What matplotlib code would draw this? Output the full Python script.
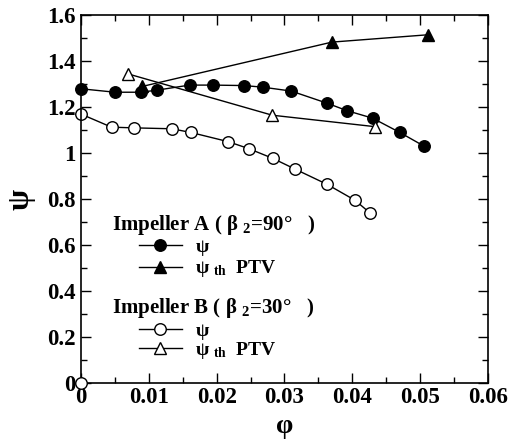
import matplotlib
matplotlib.use("Agg")
import matplotlib.pyplot as plt
from matplotlib.lines import Line2D
from matplotlib.ticker import MultipleLocator

plt.rcParams['font.family'] = ['Liberation Serif', 'DejaVu Serif']
plt.rcParams['font.weight'] = 'bold'
plt.rcParams['mathtext.fontset'] = 'custom'
plt.rcParams['mathtext.rm'] = 'Liberation Serif:bold'
plt.rcParams['mathtext.it'] = 'Liberation Serif:bold'
plt.rcParams['mathtext.bf'] = 'Liberation Serif:bold'

# Impeller A, psi (measured)
phi_a = [0.0, 0.005, 0.0088, 0.0112, 0.016, 0.0194, 0.024, 0.0268, 0.031,
         0.0363, 0.0392, 0.043, 0.047, 0.0506]
psi_a = [1.28, 1.265, 1.265, 1.274, 1.296, 1.296, 1.294, 1.287, 1.27,
         1.217, 1.185, 1.152, 1.09, 1.03]
# Impeller A, psi_th PTV
phi_a_th = [0.009, 0.037, 0.0512]
psi_a_th = [1.29, 1.483, 1.515]
# Impeller B, psi (measured)
phi_b = [0.0, 0.0045, 0.0078, 0.0134, 0.0162, 0.0217, 0.0247, 0.0283, 0.0316,
         0.0363, 0.0404, 0.0426]
psi_b = [1.17, 1.113, 1.11, 1.106, 1.09, 1.05, 1.02, 0.977, 0.93,
         0.864, 0.795, 0.74]
# Impeller B, psi_th PTV
phi_b_th = [0.0069, 0.0282, 0.0434]
psi_b_th = [1.345, 1.165, 1.115]
# stray open circle at origin
phi_b0 = [0.0]
psi_b0 = [0.0]

x_ticks = [0, 0.01, 0.02, 0.03, 0.04, 0.05, 0.06]
x_labels = ['0', '0.01', '0.02', '0.03', '0.04', '0.05', '0.06']
y_ticks = [0, 0.2, 0.4, 0.6, 0.8, 1.0, 1.2, 1.4, 1.6]
y_labels = ['0', '0.2', '0.4', '0.6', '0.8', '1', '1.2', '1.4', '1.6']

fig = plt.figure(figsize=(5.11, 4.47), dpi=100)
ax = fig.add_axes([0.1585, 0.143, 0.7965, 0.823])

ms = 8.3
ax.plot(phi_a, psi_a, '-o', color='black', mfc='black', ms=ms, lw=1, clip_on=False)
ax.plot(phi_a_th, psi_a_th, '-^', color='black', mfc='black', ms=ms, lw=1, clip_on=False)
ax.plot(phi_b, psi_b, '-o', color='black', mfc='white', ms=ms, lw=1, clip_on=False)
ax.plot(phi_b_th, psi_b_th, '-^', color='black', mfc='white', ms=ms, lw=1, clip_on=False)
ax.plot(phi_b0, psi_b0, 'o', color='black', mfc='white', ms=ms, clip_on=False, zorder=5)

ax.set_xlim(0, 0.06)
ax.set_ylim(0, 1.6)
ax.set_xticks(x_ticks)
ax.set_xticklabels(x_labels)
ax.set_yticks(y_ticks)
ax.set_yticklabels(y_labels)
ax.xaxis.set_minor_locator(MultipleLocator(0.005))
ax.yaxis.set_minor_locator(MultipleLocator(0.1))
ax.tick_params(which='both', direction='in', top=True, right=True, labelsize=16.5, width=1)
ax.tick_params(which='major', length=7)
ax.tick_params(which='minor', length=4)
ax.tick_params(axis='x', pad=3)
ax.tick_params(axis='y', pad=4)
for s in ax.spines.values():
    s.set_linewidth(1.2)

ax.set_xlabel('φ', fontsize=20, fontweight='bold', labelpad=4)
ax.set_ylabel('ψ', fontsize=22, fontweight='bold', labelpad=8)

ax.text(0.076, 0.429, 'Impeller A ( β $_{2}$=90°   )', transform=ax.transAxes,
        fontsize=15, va='center', ha='left')
ax.text(0.076, 0.204, 'Impeller B ( β $_{2}$=30°   )', transform=ax.transAxes,
        fontsize=15, va='center', ha='left')

h_a = [Line2D([], [], color='black', marker='o', mfc='black', ms=ms, lw=1),
       Line2D([], [], color='black', marker='^', mfc='black', ms=ms, lw=1)]
h_b = [Line2D([], [], color='black', marker='o', mfc='white', ms=ms, lw=1),
       Line2D([], [], color='black', marker='^', mfc='white', ms=ms, lw=1)]
labels = ['ψ', 'ψ $_{th}$  PTV']
leg1 = ax.legend(h_a, labels, loc='upper left', bbox_to_anchor=(0.1425, 0.393),
                 frameon=False, fontsize=14, handlelength=2.2, borderpad=0,
                 borderaxespad=0, labelspacing=0.12, handletextpad=0.7)
ax.add_artist(leg1)
ax.legend(h_b, labels, loc='upper left', bbox_to_anchor=(0.1425, 0.166),
          frameon=False, fontsize=14, handlelength=2.2, borderpad=0,
          borderaxespad=0, labelspacing=0.0, handletextpad=0.7)

fig.savefig('out.png', dpi=100)
